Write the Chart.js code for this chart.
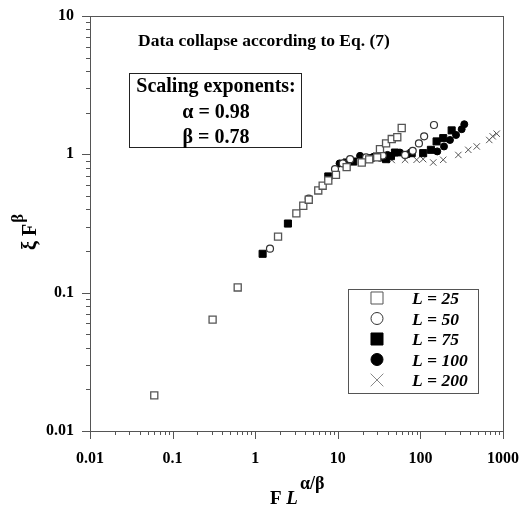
<!DOCTYPE html>
<html>
<head>
<meta charset="utf-8">
<script src="https://cdn.jsdelivr.net/npm/chart.js@4/dist/chart.umd.min.js"></script>
<style>
  html, body { margin: 0; padding: 0; background: #fff; }
  #wrap { width: 531px; height: 506px; }
</style>
</head>
<body>
<div id="wrap"><canvas id="myChart" width="531" height="506"></canvas></div>
<script>
// values
const seriesNames = ['L = 25', 'L = 50', 'L = 75', 'L = 100', 'L = 200'];

const l25x = [0.060, 0.305, 0.614, 1.89, 3.15, 3.82, 4.45, 5.8, 6.56, 7.67, 9.5, 12.8, 19.5, 32.4, 38.4, 45, 52.5, 59.4, 24, 30];
const l25y = [0.0181, 0.0638, 0.109, 0.254, 0.374, 0.425, 0.47, 0.548, 0.593, 0.647, 0.711, 0.809, 0.873, 1.09, 1.20, 1.29, 1.33, 1.55, 0.92, 0.95];

const l50x = [1.51, 4.45, 9.25, 11.5, 14.1, 22, 35, 65.2, 80.7, 96, 111, 146];
const l50y = [0.208, 0.478, 0.782, 0.86, 0.923, 0.95, 0.98, 0.99, 1.06, 1.20, 1.35, 1.63];

const l75x = [1.23, 2.49, 7.67, 12.8, 15.4, 20, 24.5, 29.6, 34, 38.4, 44, 49.2, 78.5, 108, 134, 157, 189, 239];
const l75y = [0.191, 0.316, 0.692, 0.873, 0.887, 0.92, 0.937, 0.964, 0.95, 0.923, 0.97, 1.03, 1.02, 1.02, 1.078, 1.24, 1.31, 1.49];

const l100x = [10.5, 18.6, 27, 40, 56.6, 70, 160, 193, 228, 270, 316, 340];
const l100y = [0.86, 0.975, 0.96, 0.99, 1.03, 1.0, 1.05, 1.14, 1.27, 1.38, 1.52, 1.65];

const l200x = [30, 45, 65.2, 90, 108, 143, 189, 288, 380, 481, 682, 750, 839];
const l200y = [0.93, 0.91, 0.913, 0.913, 0.923, 0.873, 0.913, 0.99, 1.078, 1.14, 1.27, 1.35, 1.41];

const xTickLabels = ['0.01', '0.1', '1', '10', '100', '1000'];
const yTickLabels = ['0.01', '0.1', '1', '10'];

const toPoints = (xs, ys) => xs.map((x, i) => ({ x: x, y: ys[i] }));

// 1..9 x 10^n between the first and last labelled decade
function logTicks(labels) {
    const out = [];
    const first = parseFloat(labels[0]);
    const last = parseFloat(labels[labels.length - 1]);
    for (let d = first; d < last * 1.0001; d *= 10) {
        for (let k = 1; k <= 9; k++) {
            const v = parseFloat((k * d).toPrecision(6));
            if (v > last * 1.0001) break;
            out.push({ value: v, major: k === 1 });
        }
    }
    return out;
}

function tickText(labels) {
    return v => {
        const i = labels.findIndex(l => Math.abs(parseFloat(l) - v) < v * 1e-6);
        return i >= 0 ? labels[i] : '';
    };
}

const serif = "'Liberation Serif', 'Times New Roman', serif";
const ink = '#000';
const gray = '#555';

// frame, log tick marks, titles, text box and legend
const decorations = {
    id: 'decorations',
    afterDraw(chart) {
        const c = chart.ctx;
        const a = chart.chartArea;
        const xs = chart.scales.x;
        const ys = chart.scales.y;
        c.save();
        c.strokeStyle = gray;
        c.lineWidth = 1;
        c.strokeRect(a.left + 0.5, a.top + 0.5, a.right - a.left, a.bottom - a.top);

        c.beginPath();
        xs.ticks.forEach(t => {
            const px = Math.round(xs.getPixelForValue(t.value)) + 0.5;
            c.moveTo(px, a.bottom);
            c.lineTo(px, a.bottom + (t.major ? 8 : 4));
        });
        ys.ticks.forEach(t => {
            const py = Math.round(ys.getPixelForValue(t.value)) + 0.5;
            c.moveTo(a.left, py);
            c.lineTo(a.left - (t.major ? 8 : 4), py);
        });
        c.stroke();

        c.fillStyle = ink;
        c.textBaseline = 'alphabetic';

        // plot title
        c.font = 'bold 17.5px ' + serif;
        c.textAlign = 'center';
        c.fillText('Data collapse according to Eq. (7)', 264, 46);

        // scaling exponents box
        c.strokeStyle = '#222';
        c.strokeRect(129.5, 73.5, 172, 74);
        c.font = 'bold 20px ' + serif;
        c.fillText('Scaling exponents:', 216, 92);
        c.fillText('\u03b1 = 0.98', 216, 118);
        c.fillText('\u03b2 = 0.78', 216, 143);

        // x axis title: F L^(α/β)
        c.textAlign = 'left';
        c.font = 'bold 19px ' + serif;
        let x = 270;
        c.fillText('F ', x, 504);
        x += c.measureText('F ').width;
        c.font = 'italic bold 19px ' + serif;
        c.fillText('L', x, 504);
        x += c.measureText('L').width + 2;
        c.font = 'bold 18px ' + serif;
        c.fillText('\u03b1/\u03b2', x, 489);

        // y axis title: ξ F^β
        c.save();
        c.translate(36, 250);
        c.rotate(-Math.PI / 2);
        c.font = 'bold 20px ' + serif;
        let y = 0;
        c.fillText('\u03be F', y, 0);
        y += c.measureText('\u03be F').width + 1;
        c.font = 'bold 17px ' + serif;
        c.fillText('\u03b2', y, -13);
        c.restore();

        // legend
        c.strokeStyle = gray;
        c.strokeRect(348.5, 289.5, 130, 104);
        c.font = 'italic bold 17.5px ' + serif;
        chart.data.datasets.forEach((ds, i) => {
            const cy = 298 + i * 20.5;
            const opts = {
                pointStyle: ds.pointStyle,
                radius: ds.legendRadius,
                borderWidth: 1,
                rotation: 0
            };
            c.fillStyle = ds.pointStyle === 'crossRot' ? '#888' : ds.backgroundColor;
            c.strokeStyle = ds.pointStyle === 'crossRot' ? '#888' : ds.borderColor;
            c.lineWidth = 1;
            Chart.helpers.drawPoint(c, opts, 377, cy);
            c.fillStyle = ink;
            c.fillText(ds.label, 412, cy + 6);
        });
        c.restore();
    }
};

const ctx = document.querySelector('#myChart');

new Chart(ctx, {
    type: 'scatter',
    data: {
        datasets: [{
            label: seriesNames[0],
            data: toPoints(l25x, l25y),
            pointStyle: 'rect',
            pointRadius: 5,
            legendRadius: 8.5,
            backgroundColor: '#fff',
            borderColor: gray,
            borderWidth: 1.3
        }, {
            label: seriesNames[1],
            data: toPoints(l50x, l50y),
            pointStyle: 'circle',
            pointRadius: 3.5,
            legendRadius: 6,
            backgroundColor: '#fff',
            borderColor: '#333',
            borderWidth: 1.2
        }, {
            label: seriesNames[2],
            data: toPoints(l75x, l75y),
            pointStyle: 'rect',
            pointRadius: 5,
            legendRadius: 8.5,
            backgroundColor: '#000',
            borderColor: '#000',
            borderWidth: 1
        }, {
            label: seriesNames[3],
            data: toPoints(l100x, l100y),
            pointStyle: 'circle',
            pointRadius: 3.5,
            legendRadius: 6,
            backgroundColor: '#000',
            borderColor: '#000',
            borderWidth: 1
        }, {
            label: seriesNames[4],
            data: toPoints(l200x, l200y),
            pointStyle: 'crossRot',
            pointRadius: 4.5,
            legendRadius: 9,
            backgroundColor: '#555',
            borderColor: '#555',
            borderWidth: 1
        }]
    },
    options: {
        responsive: false,
        animation: false,
        devicePixelRatio: 1,
        layout: { padding: { top: 16, right: 28, left: 0, bottom: 0 } },
        plugins: {
            legend: { display: false },
            tooltip: { enabled: false }
        },
        scales: {
            x: {
                type: 'logarithmic',
                position: 'bottom',
                min: 0.01,
                max: 1000,
                afterFit: s => {
                    s.height = 75;
                    s.paddingLeft = 0;
                    s.paddingRight = 0;
                },
                afterBuildTicks: s => { s.ticks = logTicks(xTickLabels); },
                grid: { display: false, drawTicks: false },
                border: { display: false },
                ticks: {
                    autoSkip: false,
                    maxRotation: 0,
                    padding: 18,
                    color: ink,
                    font: { family: serif, size: 16, weight: 'bold' },
                    callback: tickText(xTickLabels)
                }
            },
            y: {
                type: 'logarithmic',
                position: 'left',
                min: 0.01,
                max: 10,
                afterFit: s => {
                    s.width = 90;
                    s.paddingTop = 0;
                    s.paddingBottom = 0;
                },
                afterBuildTicks: s => { s.ticks = logTicks(yTickLabels); },
                grid: { display: false, drawTicks: false },
                border: { display: false },
                ticks: {
                    autoSkip: false,
                    padding: 16,
                    color: ink,
                    font: { family: serif, size: 16, weight: 'bold' },
                    callback: tickText(yTickLabels)
                }
            }
        }
    },
    plugins: [decorations]
});
</script>
</body>
</html>
